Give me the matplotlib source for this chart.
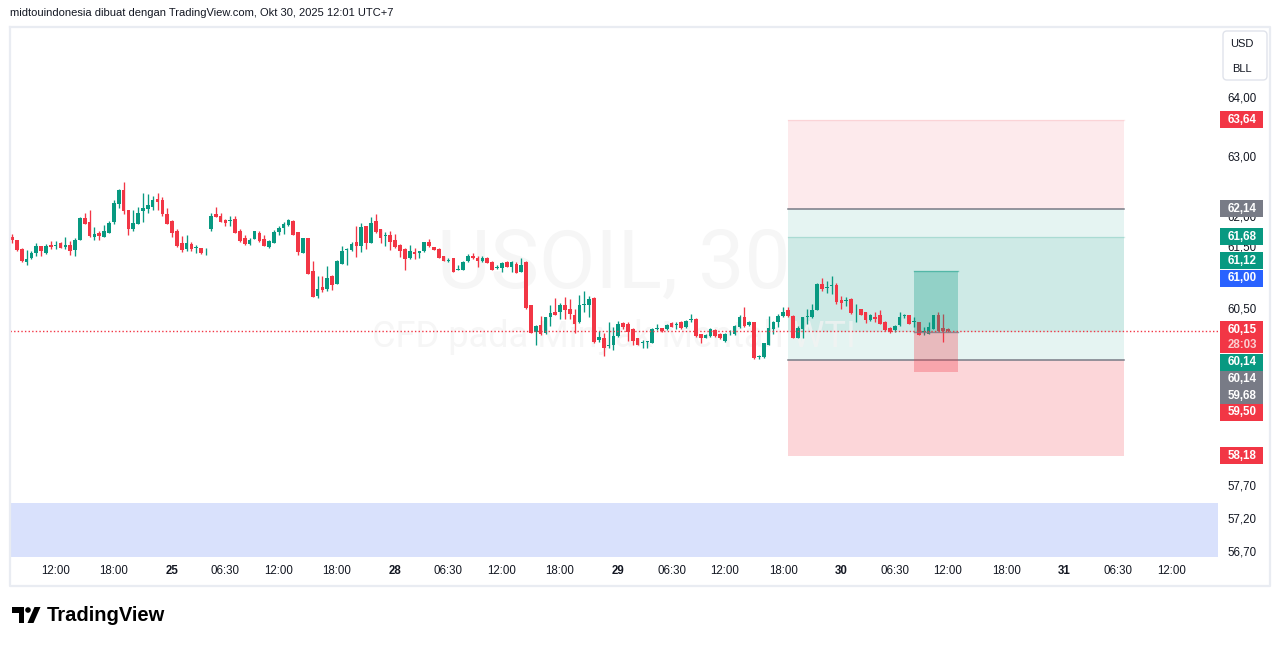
import matplotlib
matplotlib.use("Agg")
import matplotlib.pyplot as plt
from matplotlib.patches import Rectangle, Polygon, Circle, FancyBboxPatch
from matplotlib.ticker import NullLocator

plt.rcParams['font.family'] = ['Liberation Sans', 'DejaVu Sans']

# ---------------- data (30-minute candles, USOIL) ----------------
opens = [61.67, 61.63, 61.48, 61.27, 61.33, 61.42, 61.53, 61.41, 61.54, 61.53,
         61.58, 61.51, 61.55, 61.46, 61.62, 61.99, 61.92, 61.68, 61.74, 61.68,
         61.74, 61.92, 62.22, 62.46, 62.13, 61.81, 61.89, 62.10, 62.14, 62.18,
         62.31, 62.28, 62.05, 61.94, 61.77, 61.58, 61.48, 61.56, 61.49, 61.50,
         61.44, 61.81, 62.05, 62.03, 61.95, 61.94, 61.97, 61.77, 61.66, 61.56,
         61.64, 61.74, 61.64, 61.51, 61.58, 61.76, 61.82, 61.87, 61.94, 61.76,
         61.42, 61.66, 61.12, 60.72, 60.86, 60.83, 61.04, 60.91, 61.24, 61.46,
         61.46, 61.60, 61.53, 61.85, 61.58, 61.94, 61.81, 61.69, 61.71, 61.63,
         61.55, 61.48, 61.33, 61.43, 61.42, 61.44, 61.60, 61.51, 61.48, 61.37,
         61.29, 61.33, 61.14, 61.13, 61.28, 61.37, 61.33, 61.28, 61.34, 61.27,
         61.17, 61.17, 61.27, 61.19, 61.24, 61.11, 61.27, 60.57, 60.13, 60.24,
         60.11, 60.38, 60.45, 60.45, 60.57, 60.50, 60.41, 60.29, 60.57, 60.57,
         60.68, 60.00, 60.03, 59.91, 59.92, 60.07, 60.28, 60.26, 60.18, 60.03,
         59.96, 59.97, 59.96, 60.18, 60.19, 60.18, 60.27, 60.24, 60.29, 60.21,
         60.32, 60.34, 60.10, 60.04, 60.07, 60.16, 60.10, 59.99, 60.11, 60.10,
         60.21, 60.38, 60.24, 60.29, 59.74, 59.73, 59.93, 60.18, 60.30, 60.39,
         60.49, 60.39, 60.04, 60.18, 60.38, 60.37, 60.49, 60.91, 60.84, 60.87,
         60.89, 60.65, 60.63, 60.67, 60.48, 60.50, 60.45, 60.33, 60.38, 60.41,
         60.30, 60.19, 60.17, 60.24, 60.39, 60.40, 60.29, 60.30, 60.13, 60.10,
         60.18, 60.40, 60.19, 60.18]
highs = [61.73, 61.63, 61.50, 61.46, 61.44, 61.58, 61.53, 61.56, 61.61, 61.61,
         61.60, 61.68, 61.61, 61.66, 62.00, 62.08, 62.13, 61.84, 61.77, 61.87,
         61.94, 62.28, 62.47, 62.59, 62.13, 62.13, 62.18, 62.41, 62.38, 62.36,
         62.41, 62.33, 62.16, 61.95, 61.81, 61.69, 61.71, 61.59, 61.55, 61.50,
         61.50, 62.08, 62.18, 62.08, 61.97, 62.02, 62.03, 61.81, 61.71, 61.66,
         61.77, 61.77, 61.71, 61.63, 61.79, 61.86, 61.92, 61.97, 61.95, 61.76,
         61.66, 61.66, 61.29, 61.04, 61.04, 61.20, 61.06, 61.30, 61.53, 61.50,
         61.59, 61.86, 61.90, 61.85, 62.00, 62.05, 61.81, 61.76, 61.77, 61.73,
         61.56, 61.50, 61.55, 61.50, 61.45, 61.60, 61.65, 61.52, 61.49, 61.37,
         61.33, 61.33, 61.22, 61.28, 61.40, 61.41, 61.36, 61.36, 61.35, 61.28,
         61.22, 61.26, 61.29, 61.29, 61.26, 61.34, 61.28, 60.57, 60.24, 60.39,
         60.38, 60.56, 60.68, 60.60, 60.69, 60.67, 60.50, 60.73, 60.79, 60.71,
         60.69, 60.15, 60.12, 60.29, 60.21, 60.31, 60.29, 60.29, 60.19, 60.04,
         60.01, 59.99, 60.19, 60.26, 60.20, 60.26, 60.30, 60.29, 60.31, 60.33,
         60.42, 60.35, 60.10, 60.10, 60.19, 60.18, 60.11, 60.11, 60.17, 60.24,
         60.40, 60.53, 60.31, 60.30, 59.77, 59.96, 60.39, 60.31, 60.42, 60.53,
         60.53, 60.40, 60.23, 60.38, 60.50, 60.59, 60.93, 61.01, 60.95, 61.04,
         60.92, 60.71, 60.69, 60.68, 60.59, 60.50, 60.46, 60.42, 60.45, 60.48,
         60.31, 60.22, 60.25, 60.46, 60.42, 60.40, 60.38, 60.30, 60.21, 60.29,
         60.41, 60.46, 60.42, 60.19]
lows = [61.58, 61.45, 61.27, 61.22, 61.32, 61.36, 61.36, 61.40, 61.48, 61.48,
        61.49, 61.48, 61.38, 61.37, 61.62, 61.89, 61.67, 61.62, 61.62, 61.67,
        61.74, 61.89, 62.15, 62.06, 61.71, 61.77, 61.89, 61.93, 62.08, 62.12,
        62.13, 62.03, 61.89, 61.68, 61.51, 61.43, 61.45, 61.45, 61.42, 61.40,
        61.38, 61.77, 62.00, 61.92, 61.86, 61.86, 61.74, 61.60, 61.55, 61.55,
        61.64, 61.60, 61.53, 61.50, 61.58, 61.71, 61.73, 61.86, 61.71, 61.38,
        61.42, 61.07, 60.70, 60.68, 60.78, 60.80, 60.81, 60.91, 61.24, 61.22,
        61.45, 61.35, 61.43, 61.48, 61.58, 61.74, 61.58, 61.53, 61.46, 61.50,
        61.35, 61.14, 61.32, 61.32, 61.33, 61.43, 61.52, 61.46, 61.34, 61.29,
        61.27, 61.11, 61.13, 61.13, 61.26, 61.32, 61.19, 61.26, 61.25, 61.14,
        61.15, 61.10, 61.18, 61.10, 61.08, 61.10, 60.51, 60.11, 59.93, 60.08,
        60.10, 60.23, 60.40, 60.34, 60.34, 60.34, 60.12, 60.28, 60.45, 60.37,
        59.95, 59.97, 59.75, 59.88, 59.84, 60.06, 60.18, 59.99, 59.92, 59.92,
        59.87, 59.87, 59.96, 60.17, 60.13, 60.17, 60.21, 60.18, 60.18, 60.19,
        60.30, 60.06, 59.96, 60.03, 60.06, 60.06, 60.02, 59.98, 60.08, 60.09,
        60.19, 60.22, 60.23, 59.70, 59.70, 59.72, 59.93, 60.10, 60.21, 60.37,
        60.38, 60.03, 60.03, 60.04, 60.26, 60.35, 60.49, 60.80, 60.76, 60.75,
        60.59, 60.50, 60.55, 60.43, 60.30, 60.40, 60.28, 60.31, 60.29, 60.26,
        60.15, 60.12, 60.14, 60.23, 60.35, 60.26, 60.21, 60.08, 60.08, 60.10,
        60.18, 60.15, 59.97, 60.14]
closes = [61.62, 61.46, 61.29, 61.32, 61.42, 61.53, 61.44, 61.53, 61.52, 61.55,
          61.50, 61.55, 61.45, 61.63, 61.99, 61.89, 61.70, 61.73, 61.70, 61.77,
          61.90, 62.23, 62.46, 62.10, 61.80, 61.90, 62.08, 62.16, 62.20, 62.28,
          62.25, 62.05, 61.89, 61.74, 61.53, 61.46, 61.58, 61.48, 61.50, 61.42,
          61.45, 62.03, 62.00, 61.92, 61.90, 61.95, 61.74, 61.61, 61.56, 61.63,
          61.77, 61.61, 61.53, 61.61, 61.76, 61.82, 61.89, 61.95, 61.71, 61.43,
          61.66, 61.07, 60.70, 60.83, 60.81, 61.01, 60.89, 61.29, 61.45, 61.48,
          61.56, 61.53, 61.84, 61.58, 61.90, 61.76, 61.66, 61.70, 61.59, 61.51,
          61.45, 61.32, 61.45, 61.40, 61.44, 61.59, 61.53, 61.47, 61.34, 61.29,
          61.30, 61.11, 61.14, 61.27, 61.37, 61.33, 61.28, 61.34, 61.25, 61.14,
          61.19, 61.25, 61.19, 61.27, 61.08, 61.22, 60.52, 60.12, 60.23, 60.10,
          60.37, 60.44, 60.41, 60.56, 60.48, 60.42, 60.26, 60.57, 60.58, 60.67,
          59.97, 60.06, 59.88, 59.92, 60.07, 60.26, 60.22, 60.13, 59.99, 59.93,
          59.97, 59.98, 60.18, 60.19, 60.15, 60.25, 60.22, 60.25, 60.19, 60.31,
          60.33, 60.07, 60.04, 60.08, 60.18, 60.07, 60.03, 60.10, 60.12, 60.23,
          60.38, 60.23, 60.29, 59.72, 59.75, 59.95, 60.19, 60.30, 60.39, 60.45,
          60.39, 60.04, 60.19, 60.37, 60.39, 60.49, 60.91, 60.83, 60.85, 60.88,
          60.61, 60.60, 60.64, 60.44, 60.49, 60.41, 60.33, 60.41, 60.34, 60.26,
          60.16, 60.14, 60.23, 60.37, 60.40, 60.26, 60.30, 60.08, 60.14, 60.21,
          60.41, 60.15, 60.15, 60.15]

tick_index = [9, 21, 33, 44, 55, 67, 79, 90, 101, 113, 125, 136, 147, 159,
              171, 182, 193, 205, 217, 228, 239]
tick_labels = ["12:00", "18:00", "25", "06:30", "12:00", "18:00", "28", "06:30",
               "12:00", "18:00", "29", "06:30", "12:00", "18:00", "30", "06:30",
               "12:00", "18:00", "31", "06:30", "12:00"]
day_labels = ["25", "28", "29", "30", "31"]

axis_prices = [64.00, 63.00, 62.00, 61.50, 60.50, 57.70, 57.20, 56.70]

# drawing-tool levels
short_stop, short_entry, short_target = 63.64, 62.14, 59.68
long_target, long_entry, long_stop = 61.68, 60.14, 58.18
small_target, small_entry, small_stop = 61.12, 60.14, 59.50
alert_price = 61.00
last_price = 60.15
countdown = "28:03"
band_top = 57.45

title = "midtouindonesia dibuat dengan TradingView.com, Okt 30, 2025 12:01 UTC+7"
wm_main = "USOIL, 30"
wm_sub = "CFD pada Minyak Mentah WTI"

# ---------------- style ----------------
GREEN = '#089981'
RED = '#f23645'
GRAY = '#787b86'
BLUE = '#2962ff'
TXT = '#131722'

W, H = 1281, 646
L, R, T, B = 10, 1218, 27, 557
STEP = 4.85   # px per bar
X0 = 12       # px of first bar

fig = plt.figure(figsize=(W / 100, H / 100), dpi=100)
fig.patch.set_facecolor('white')
ax = fig.add_axes([L / W, 1 - B / H, (R - L) / W, (B - T) / H])
ax.set_yscale('log')
ax.set_ylim(56.63, 65.23)
ax.set_xlim(-(X0 - L) / STEP, (R - X0) / STEP)
ax.yaxis.set_major_locator(NullLocator())
ax.yaxis.set_minor_locator(NullLocator())
ax.xaxis.set_major_locator(NullLocator())
for s in ax.spines.values():
    s.set_visible(False)
ax.set_facecolor('white')

n = len(opens)
idx = list(range(n))

# blue band at bottom
ax.add_patch(Rectangle((-5, 40), 300, band_top - 40, facecolor='#d9e1fc',
                       edgecolor='none', zorder=0.5))

# big position boxes
bl, br = 160.0, 229.3
def zone(x0, x1, p0, p1, color, alpha, z):
    ax.add_patch(Rectangle((x0, min(p0, p1)), x1 - x0, abs(p1 - p0),
                           facecolor=color, alpha=alpha, edgecolor='none', zorder=z))

zone(bl, br, short_entry, short_stop, RED, 0.10, 1)
zone(bl, br, short_target, short_entry, GREEN, 0.10, 1)
zone(bl, br, long_entry, long_target, GREEN, 0.10, 1.1)
zone(bl, br, long_stop, short_target, RED, 0.20, 1)
ax.plot([bl, br], [short_stop, short_stop], color=RED, alpha=0.12, lw=1, zorder=1.2)
ax.plot([bl, br], [long_target, long_target], color=GREEN, alpha=0.18, lw=1, zorder=1.2)
ax.plot([bl, br], [short_entry, short_entry], color=GRAY, lw=1.1, zorder=1.3)
ax.plot([bl, br], [short_target, short_target], color=GRAY, lw=1.1, zorder=1.3)

# watermark
ax.text(0.5, 0.549, wm_main, transform=ax.transAxes, ha='center', va='center',
        fontsize=59, color='#f3f3f3', alpha=0.75, family='Roboto', zorder=2)
ax.text(0.5, 0.415, wm_sub, transform=ax.transAxes, ha='center', va='center',
        fontsize=26, color='#f3f3f3', alpha=0.75, family='Roboto', zorder=2)

# candles
cols = [GREEN if c >= o else RED for o, c in zip(opens, closes)]
ax.vlines(idx, lows, highs, colors=cols, lw=0.95, zorder=3)
bottoms = [min(o, c) for o, c in zip(opens, closes)]
heights = [max(abs(c - o), 0.014) for o, c in zip(opens, closes)]
ax.bar(idx, heights, bottom=bottoms, width=0.76, color=cols, edgecolor='none',
       zorder=4)

# small position box (drawn above candles)
sl, sr = 186.0, 195.1
zone(sl, sr, small_entry, small_target, GREEN, 0.30, 5)
zone(sl, sr, small_stop, small_entry, RED, 0.30, 5)
ax.plot([sl, sr], [small_target, small_target], color=GREEN, alpha=0.45, lw=1, zorder=5.1)
ax.plot([sl, sr], [small_entry, small_entry], color=GRAY, alpha=0.8, lw=1, zorder=5.1)

# last price dotted line
ax.axhline(last_price, color=RED, lw=1.0, ls=(0, (1, 1.6)), zorder=6)

# ---------------- overlay in pixel coordinates ----------------
ov = fig.add_axes([0, 0, 1, 1], zorder=10)
ov.set_xlim(0, W)
ov.set_ylim(H, 0)
ov.axis('off')
ov.patch.set_alpha(0)

def ypx(p):
    return H - ax.transData.transform((0, p))[1]

def xpx(i):
    return ax.transData.transform((i, 60))[0]

def fmt(v):
    return f"{v:.2f}".replace('.', ',')

# frame
fc = '#e9ecf2'
ov.plot([L, 1270, 1270, L, L], [T, T, 586, 586, T], color=fc, lw=1.6, zorder=1)

# header
ov.text(10, 13, title, ha='left', va='center', fontsize=8.0, color=TXT)

# x-axis labels
for i, lab in zip(tick_index, tick_labels):
    bold = lab in day_labels
    ov.text(xpx(i), 571, lab, ha='center', va='center', fontsize=8.3,
            color=TXT, fontweight='bold' if bold else 'normal')

# price axis plain labels (some are partly covered by tags, as in TradingView)
LX = 1242
for p in axis_prices:
    ov.text(LX, ypx(p), fmt(p), ha='center', va='center', fontsize=8.3,
            color=TXT, zorder=2)

# currency box
ov.add_patch(FancyBboxPatch((1223, 31), 44, 49, boxstyle='round,pad=0,rounding_size=4',
                            facecolor='white', edgecolor='#e0e3eb', lw=1, zorder=2))
ov.text(1242, 44, 'USD', ha='center', va='center', fontsize=8, color=TXT, zorder=3)
ov.text(1242, 69, 'BLL', ha='center', va='center', fontsize=8, color=TXT, zorder=3)

# price tags: (values, colour, pixel shift, extra line)
BX0, BX1, BH = 1219.5, 1263, 17
tags = [
    ([short_stop], RED, 0, None),
    ([short_entry], GRAY, 0, None),
    ([long_target], GREEN, 0, None),
    ([small_target], GREEN, -10, None),
    ([alert_price], BLUE, 0, None),
    ([last_price], RED, -1, countdown),
    ([long_entry], GREEN, 30.5, None),
    ([small_entry, short_target], GRAY, 47.5, None),
    ([small_stop], RED, 40.5, None),
    ([long_stop], RED, 0, None),
]
for vals, col, shift, extra in tags:
    yc = ypx(vals[0]) + shift
    nlines = len(vals) + (1 if extra else 0)
    gap = 15 if extra else 17
    top = yc - BH / 2
    hgt = BH + gap * (nlines - 1)
    ov.add_patch(Rectangle((BX0, top), BX1 - BX0, hgt, facecolor=col,
                           edgecolor='none', zorder=4))
    for k, v in enumerate(vals):
        ov.text(LX, yc + k * gap, fmt(v), ha='center', va='center', fontsize=8.3,
                color='white', fontweight='bold', zorder=5)
    if extra:
        ov.text(LX, yc + gap * len(vals), extra, ha='center', va='center',
                fontsize=8.3, color='white', alpha=0.75, fontweight='bold', zorder=5)

# TradingView logo
k = 'black'
ov.add_patch(Polygon([(12, 607), (24, 607), (24, 623), (18.5, 623), (18.5, 612.5), (12, 612.5)],
                     closed=True, facecolor=k, edgecolor='none'))
ov.add_patch(Circle((28, 610), 2.8, facecolor=k, edgecolor='none'))
ov.add_patch(Polygon([(27.5, 623), (33.5, 623), (40.5, 607), (34.5, 607)],
                     closed=True, facecolor=k, edgecolor='none'))
ov.text(47, 615.5, 'TradingView', ha='left', va='center', fontsize=14.5,
        fontweight='bold', color=k)

fig.savefig('out.png', dpi=100, facecolor='white')
